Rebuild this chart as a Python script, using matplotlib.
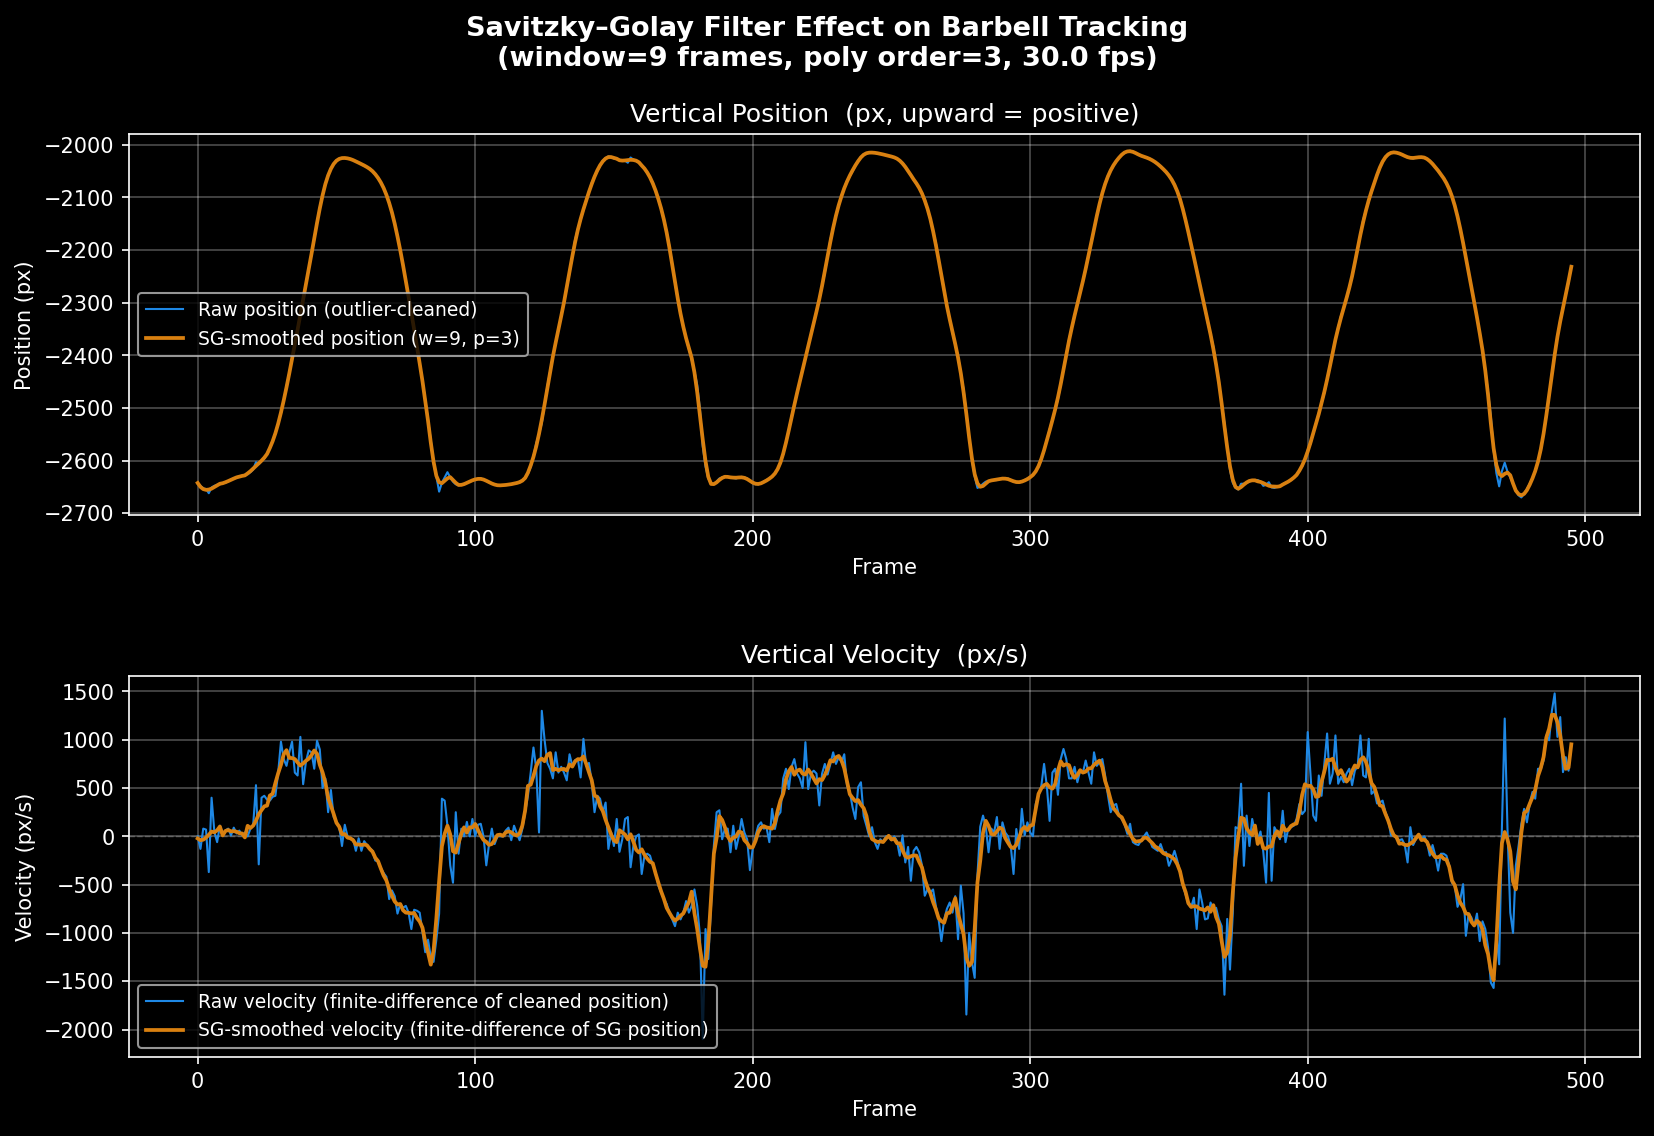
import numpy as np
import matplotlib
matplotlib.use("Agg")
import matplotlib.pyplot as plt

# datos: posicion vertical (px) y velocidad (px/s) por frame
fps = 30.0
window = 9
poly = 3

pos_raw = [
    -2644, -2648, -2653, -2654, -2662, -2651, -2648, -2646, -2645, -2643,
    -2642, -2639, -2636, -2634, -2632, -2630, -2629, -2627, -2626, -2622,
    -2617, -2603, -2607, -2601, -2596, -2587, -2576, -2563, -2548, -2530,
    -2510, -2486, -2459, -2434, -2408, -2380, -2351, -2322, -2294, -2265,
    -2237, -2208, -2180, -2148, -2119, -2095, -2075, -2058, -2045, -2036,
    -2030, -2027, -2025, -2025, -2026, -2027, -2029, -2031, -2034, -2037,
    -2040, -2042, -2045, -2050, -2056, -2063, -2072, -2082, -2094, -2110,
    -2129, -2150, -2173, -2200, -2230, -2259, -2288, -2320, -2351, -2383,
    -2415, -2450, -2484, -2522, -2561, -2605, -2630, -2659, -2642, -2632,
    -2622, -2632, -2640, -2645, -2647, -2646, -2644, -2642, -2640, -2638,
    -2635, -2635, -2634, -2636, -2638, -2641, -2644, -2646, -2647, -2647,
    -2647, -2646, -2645, -2645, -2644, -2642, -2640, -2637, -2634, -2625,
    -2612, -2592, -2567, -2550, -2529, -2494, -2459, -2430, -2402, -2376,
    -2351, -2325, -2300, -2272, -2243, -2212, -2180, -2160, -2142, -2124,
    -2107, -2090, -2072, -2060, -2050, -2040, -2030, -2025, -2022, -2023,
    -2026, -2027, -2029, -2029, -2030, -2034, -2024, -2028, -2030, -2034,
    -2039, -2045, -2053, -2062, -2072, -2087, -2103, -2122, -2142, -2166,
    -2192, -2227, -2262, -2294, -2322, -2346, -2368, -2388, -2408, -2430,
    -2456, -2503, -2573, -2611, -2634, -2643, -2645, -2640, -2634, -2632,
    -2630, -2631, -2632, -2633, -2634, -2632, -2631, -2632, -2634, -2638,
    -2643, -2645, -2645, -2643, -2640, -2637, -2634, -2630, -2625, -2616,
    -2605, -2588, -2567, -2542, -2516, -2494, -2472, -2450, -2427, -2405,
    -2383, -2360, -2338, -2316, -2294, -2269, -2243, -2212, -2180, -2157,
    -2135, -2116, -2097, -2082, -2068, -2059, -2050, -2040, -2030, -2023,
    -2018, -2016, -2015, -2015, -2015, -2016, -2017, -2018, -2020, -2021,
    -2022, -2024, -2026, -2030, -2034, -2042, -2050, -2058, -2066, -2074,
    -2082, -2092, -2103, -2122, -2142, -2164, -2186, -2218, -2250, -2279,
    -2307, -2332, -2357, -2380, -2402, -2433, -2465, -2510, -2554, -2599,
    -2630, -2652, -2649, -2644, -2640, -2639, -2638, -2637, -2637, -2635,
    -2634, -2634, -2634, -2637, -2640, -2641, -2642, -2640, -2637, -2634,
    -2632, -2627, -2621, -2611, -2599, -2580, -2561, -2541, -2522, -2503,
    -2484, -2455, -2427, -2398, -2370, -2347, -2325, -2303, -2281, -2259,
    -2237, -2211, -2186, -2160, -2135, -2112, -2091, -2074, -2059, -2049,
    -2040, -2031, -2024, -2019, -2015, -2012, -2011, -2013, -2016, -2019,
    -2021, -2023, -2024, -2026, -2029, -2033, -2037, -2041, -2046, -2052,
    -2059, -2066, -2075, -2088, -2103, -2122, -2142, -2166, -2192, -2214,
    -2237, -2262, -2288, -2313, -2338, -2360, -2383, -2418, -2453, -2490,
    -2529, -2573, -2618, -2642, -2652, -2655, -2644, -2644, -2642, -2640,
    -2637, -2637, -2637, -2640, -2648, -2646, -2641, -2651, -2652, -2650,
    -2648, -2645, -2642, -2640, -2637, -2632, -2627, -2619, -2611, -2599,
    -2580, -2568, -2548, -2529, -2510, -2491, -2472, -2446, -2421, -2395,
    -2370, -2347, -2325, -2310, -2294, -2272, -2250, -2224, -2199, -2170,
    -2142, -2124, -2107, -2090, -2072, -2057, -2043, -2032, -2022, -2018,
    -2015, -2015, -2015, -2016, -2018, -2021, -2024, -2025, -2026, -2024,
    -2023, -2023, -2024, -2027, -2030, -2036, -2043, -2050, -2056, -2064,
    -2072, -2084, -2097, -2116, -2135, -2160, -2186, -2214, -2243, -2271,
    -2300, -2328, -2357, -2392, -2427, -2470, -2516, -2580, -2624, -2649,
    -2620, -2604, -2621, -2632, -2644, -2656, -2666, -2670, -2663, -2654,
    -2644, -2633, -2621, -2602, -2580, -2550, -2516, -2476, -2434, -2398,
    -2364, -2335, -2307, -2285, -2262, -2230,
]

vel_raw = [
    0, -130, 80, 70, -370, 400, 50, -60, 110, 30,
    60, 80, 10, 90, 30, 60, 10, 40, 0, 80,
    120, 530, -290, 400, 420, 380, 370, 410, 420, 660,
    980, 800, 730, 870, 980, 660, 630, 1030, 540, 770,
    890, 870, 700, 990, 900, 500, 600, 250, 480, 200,
    150, 100, -100, 120, 0, -20, -30, -150, -20, -150,
    -50, -90, -120, -150, -250, -260, -330, -380, -420, -650,
    -560, -620, -800, -700, -740, -720, -790, -960, -760, -770,
    -790, -990, -1200, -1070, -1250, -1300, -1070, -800, 390, 370,
    110, -300, -480, 250, -180, 80, 0, 150, 0, 180,
    0, 120, 130, 0, -300, -80, 80, -80, 0, 0,
    0, 60, 90, -40, 110, 30, -40, 80, 250, 420,
    660, 920, 700, 40, 1300, 1000, 760, 700, 600, 870,
    660, 720, 660, 580, 850, 730, 790, 800, 610, 1010,
    730, 760, 560, 250, 420, 390, 250, 350, -130, 40,
    -100, 180, -160, -30, 180, 200, -320, -100, 0, 20,
    -390, -200, -180, -200, -300, -370, -510, -580, -650, -700,
    -790, -860, -930, -790, -860, -790, -670, -790, -720, -550,
    -720, -1030, -2100, -960, -1270, -720, -100, 250, 270, -30,
    80, 80, -165, 110, -130, 0, 180, 40, -30, -350,
    -130, 0, 110, 145, 80, 90, -60, 285, 76, 210,
    250, 600, 700, 490, 720, 800, 650, 600, 500, 975,
    490, 650, 680, 650, 320, 650, 750, 640, 750, 870,
    750, 820, 770, 850, 525, 460, 300, 180, 510, 560,
    210, 110, 0, 95, -60, -130, -30, -60, 0, 0,
    -40, 0, -50, -200, 10, -270, -110, -460, -150, -110,
    -165, -300, -615, -550, -580, -550, -720, -860, -1085, -860,
    -750, -685, -790, -620, -1065, -510, -800, -1845, -1000, -1300,
    -1465, -400, 100, 215, 100, -165, 80, 40, 200, -130,
    145, 40, 0, -100, -390, 76, -130, 285, 10, 145,
    40, 0, 335, 420, 520, 750, 520, 160, 660, 700,
    430, 800, 905, 800, 600, 600, 720, 560, 680, 660,
    785, 660, 545, 870, 730, 770, 800, 630, 430, 250,
    320, 335, 215, 180, 130, 25, 130, -60, -80, -90,
    -40, 0, 40, -30, -110, -130, -150, -80, -165, -165,
    -305, -235, -150, -250, -375, -510, -600, -700, -735, -635,
    -960, -550, -690, -860, -850, -685, -760, -740, -860, -930,
    -1640, -855, -1380, -800, 95, 80, 545, -305, 215, -100,
    180, 40, -30, 50, -160, -480, 450, -460, 95, 40,
    -30, 265, -60, 80, 95, 110, 180, 335, 230, 265,
    1080, 650, 215, 160, 630, 420, 750, 1065, 545, 650,
    1045, 545, 615, 560, 650, 700, 530, 680, 730, 1045,
    630, 610, 1010, 440, 470, 340, 350, 370, 250, 180,
    10, 10, -20, -40, -30, -90, -270, 95, -90, -30,
    10, -30, 0, -60, -200, -90, -200, -355, -180, -180,
    -200, -300, -480, -510, -730, -650, -495, -1030, -800, -840,
    -930, -800, -1085, -880, -960, -1150, -1515, -1570, -1000, -1325,
    100, 1220, 76, -790, -1000, -305, -100, 130, 285, 145,
    335, 460, 390, 700, 700, 785, 1045, 995, 1300, 1480,
    1030, 1235, 665, 820, 680, 950,
]


def savgol(y, w=9, p=3):
    """
    Filtro Savitzky-Golay (ajuste polinomico local), bordes con ajuste directo
    """
    y = np.asarray(y, dtype=float)
    half = w // 2
    t = np.arange(-half, half + 1)
    A = np.vander(t, p + 1, increasing=True)
    coef = np.linalg.pinv(A)[0]
    out = np.convolve(y, coef[::-1], mode="same")
    xs = np.arange(w)
    c0 = np.polyfit(xs, y[:w], p)
    out[:half] = np.polyval(c0, xs[:half])
    c1 = np.polyfit(xs, y[-w:], p)
    out[-half:] = np.polyval(c1, xs[-half:])
    return out


frames = np.arange(len(pos_raw))
pos_sg = savgol(pos_raw, window, poly)
vel_sg = savgol(vel_raw, window, poly)

plt.style.use("dark_background")
blue = "#1E88E5"
orange = "#D98010"

fig, (ax1, ax2) = plt.subplots(2, 1, figsize=(11.027, 7.575), dpi=150)
fig.subplots_adjust(left=0.078, right=0.9915, top=0.882, bottom=0.0695, hspace=0.42)

fig.suptitle("Savitzky\u2013Golay Filter Effect on Barbell Tracking\n"
             f"(window={window} frames, poly order={poly}, {fps} fps)",
             fontsize=13, fontweight="bold", y=0.986)

# posicion
ax1.plot(frames, pos_raw, color=blue, lw=1.0, label="Raw position (outlier-cleaned)")
ax1.plot(frames, pos_sg, color=orange, lw=1.8, label=f"SG-smoothed position (w={window}, p={poly})")
ax1.set_title("Vertical Position  (px, upward = positive)", fontsize=12)
ax1.set_xlabel("Frame", fontsize=10)
ax1.set_ylabel("Position (px)", fontsize=10)
ax1.set_ylim(-2704, -1979)
ax1.legend(loc="center left", fontsize=9, edgecolor="#bbbbbb")

# velocidad
ax2.axhline(0, color="gray", ls="--", lw=0.7, alpha=0.6)
ax2.plot(frames, vel_raw, color=blue, lw=1.0,
         label="Raw velocity (finite-difference of cleaned position)")
ax2.plot(frames, vel_sg, color=orange, lw=1.8,
         label="SG-smoothed velocity (finite-difference of SG position)")
ax2.set_title("Vertical Velocity  (px/s)", fontsize=12)
ax2.set_xlabel("Frame", fontsize=10)
ax2.set_ylabel("Velocity (px/s)", fontsize=10)
ax2.set_ylim(-2285, 1665)
ax2.legend(loc="lower left", fontsize=9, edgecolor="#bbbbbb")

for ax in (ax1, ax2):
    ax.set_xlim(-24.75, 519.75)
    ax.grid(True, color="white", alpha=0.3, lw=0.8)
    ax.tick_params(labelsize=10)

fig.savefig("out.png", dpi=150)
